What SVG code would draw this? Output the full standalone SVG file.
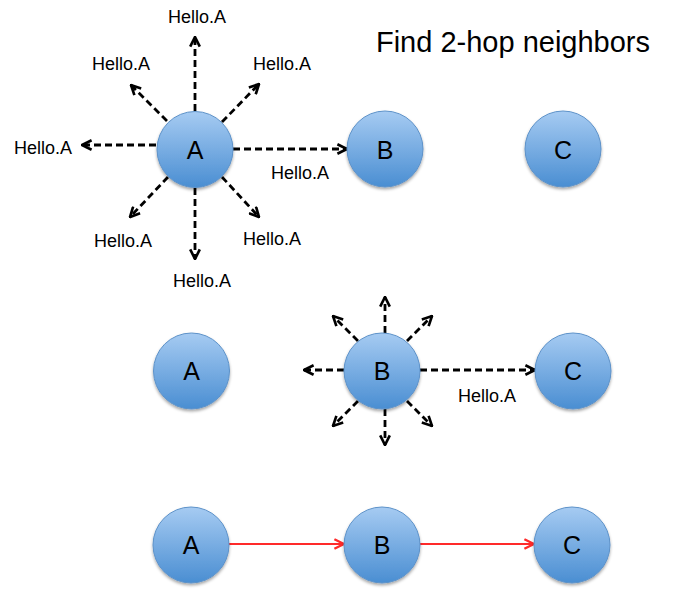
<svg xmlns="http://www.w3.org/2000/svg" width="687" height="600" viewBox="0 0 687 600">
<defs>
<linearGradient id="g" x1="0" y1="0" x2="0" y2="1">
<stop offset="0" stop-color="#a6cbf2"/>
<stop offset="1" stop-color="#4a8ed2"/>
</linearGradient>
<filter id="sh" x="-30%" y="-30%" width="160%" height="170%">
<feDropShadow dx="0" dy="2" stdDeviation="1.5" flood-color="#000" flood-opacity="0.35"/>
</filter>
<marker id="ah" viewBox="0 0 10 10" refX="9" refY="5" markerWidth="12" markerHeight="12" orient="auto" markerUnits="userSpaceOnUse">
<path d="M1,1 L9,5 L1,9" fill="none" stroke="#000" stroke-width="2.2"/>
</marker>
<marker id="ahr" viewBox="0 0 10 10" refX="9" refY="5" markerWidth="12" markerHeight="12" orient="auto" markerUnits="userSpaceOnUse">
<path d="M1,1 L9,5 L1,9" fill="none" stroke="#ff2a2a" stroke-width="2"/>
</marker>
</defs>
<style>
.n{fill:url(#g);stroke:#5d92c9;stroke-width:1;filter:url(#sh)}
.nl{font-family:"Liberation Sans",Arial,sans-serif;font-size:25px;fill:#000;text-anchor:middle}
.lb{font-family:"Liberation Sans",Arial,sans-serif;font-size:18px;fill:#000;text-anchor:middle}
.d{stroke:#000;stroke-width:2.8;stroke-dasharray:7,4;fill:none;marker-end:url(#ah)}
.r{stroke:#ff2a2a;stroke-width:2.2;fill:none;marker-end:url(#ahr)}
</style>
<rect width="687" height="600" fill="#fff"/>
<text x="513" y="52" font-family="Liberation Sans,Arial,sans-serif" font-size="29" text-anchor="middle" fill="#000">Find 2-hop neighbors</text>
<g id="connectors">
<path class="d" d="M195,111 L195,37"/>
<path class="d" d="M195,188 L195,259"/>
<path class="d" d="M156,145 L82,145"/>
<path class="d" d="M233,149 L347,149"/>
<path class="d" d="M167,121 L131,85"/>
<path class="d" d="M222,122 L259,84"/>
<path class="d" d="M168,177 L130,217"/>
<path class="d" d="M222,177 L259,217"/>
<path class="d" d="M385,333 L385,297"/>
<path class="d" d="M385,409 L385,445"/>
<path class="d" d="M344,370 L304,370"/>
<path class="d" d="M420,370 L535,370"/>
<path class="d" d="M358,341 L333,316"/>
<path class="d" d="M407,341 L432,316"/>
<path class="d" d="M358,401 L333,426"/>
<path class="d" d="M407,401 L432,426"/>
<path class="r" d="M229,544 L344,544"/>
<path class="r" d="M420,544 L534,544"/>
</g>
<g id="labels">
<text class="lb" x="197" y="23">Hello.A</text>
<text class="lb" x="121" y="70">Hello.A</text>
<text class="lb" x="282" y="70">Hello.A</text>
<text class="lb" x="43" y="154">Hello.A</text>
<text class="lb" x="300" y="179">Hello.A</text>
<text class="lb" x="123" y="247">Hello.A</text>
<text class="lb" x="272" y="245">Hello.A</text>
<text class="lb" x="202" y="287">Hello.A</text>
<text class="lb" x="487" y="402">Hello.A</text>
</g>
<g id="nodeA1"><circle class="n" cx="195" cy="149.5" r="38"/><text class="nl" x="195" y="159">A</text></g>
<g id="nodeB1"><circle class="n" cx="385" cy="149" r="38"/><text class="nl" x="385" y="159">B</text></g>
<g id="nodeC1"><circle class="n" cx="563" cy="149" r="38"/><text class="nl" x="563" y="159">C</text></g>
<g id="nodeA2"><circle class="n" cx="191.5" cy="371" r="38"/><text class="nl" x="191.5" y="380">A</text></g>
<g id="nodeB2"><circle class="n" cx="382" cy="371" r="38"/><text class="nl" x="382" y="380">B</text></g>
<g id="nodeC2"><circle class="n" cx="573" cy="371" r="38"/><text class="nl" x="573" y="380">C</text></g>
<g id="nodeA3"><circle class="n" cx="191" cy="545" r="38"/><text class="nl" x="191" y="554">A</text></g>
<g id="nodeB3"><circle class="n" cx="382" cy="545" r="38"/><text class="nl" x="382" y="554">B</text></g>
<g id="nodeC3"><circle class="n" cx="572" cy="545" r="38"/><text class="nl" x="572" y="554">C</text></g>
</svg>
